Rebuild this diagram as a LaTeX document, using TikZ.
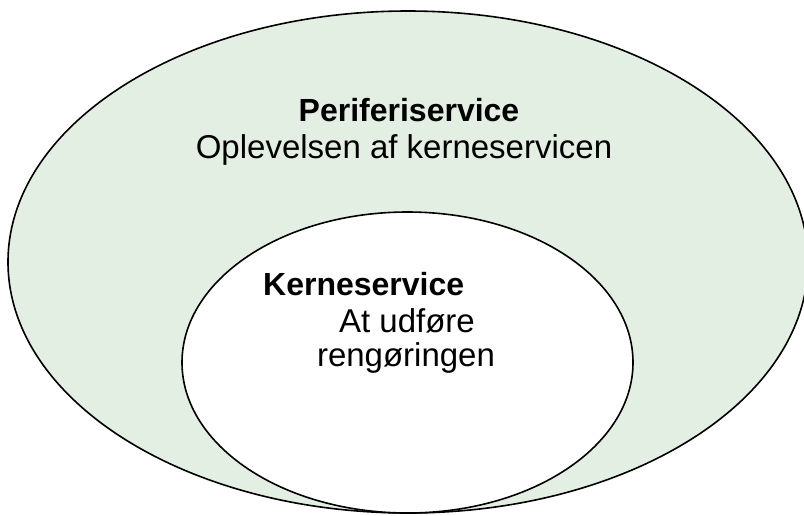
\documentclass[tikz,border=0pt]{standalone}
\usepackage{fontspec}
\setmainfont{Liberation Sans}
\definecolor{periferigreen}{HTML}{E4EFE3}
\begin{document}
\begin{tikzpicture}[
        x=1pt, y=-1pt,
        ring/.style={draw=black, line width=1.6pt},
        txt/.style={font=\fontsize{33}{38}\selectfont, inner sep=0pt, anchor=base},
        head/.style={txt, font=\fontsize{32}{37}\selectfont\bfseries}
    ]
    \useasboundingbox (0,0) rectangle (804,515);
    \clip (0,0) rectangle (804,515);

    % outer and inner ellipses
    \path[ring, fill=periferigreen] (408,262) ellipse [x radius=400, y radius=251];
    \path[ring, fill=white] (407.5,362.5) ellipse [x radius=225.5, y radius=150.5];

    % outer texts
    \node[head] (periferi) at (409,121) {Periferiservice};
    \node[txt] (oplevelse) at (404,158) {Oplevelsen af kerneservicen};

    % inner texts
    \node[head, anchor=base west] (kerne) at (263,295) {Kerneservice};
    \node[txt] (udfore) at (407,332) {At udføre};
    \node[txt] (rengoring) at (406,366) {rengøringen};
\end{tikzpicture}
\end{document}
